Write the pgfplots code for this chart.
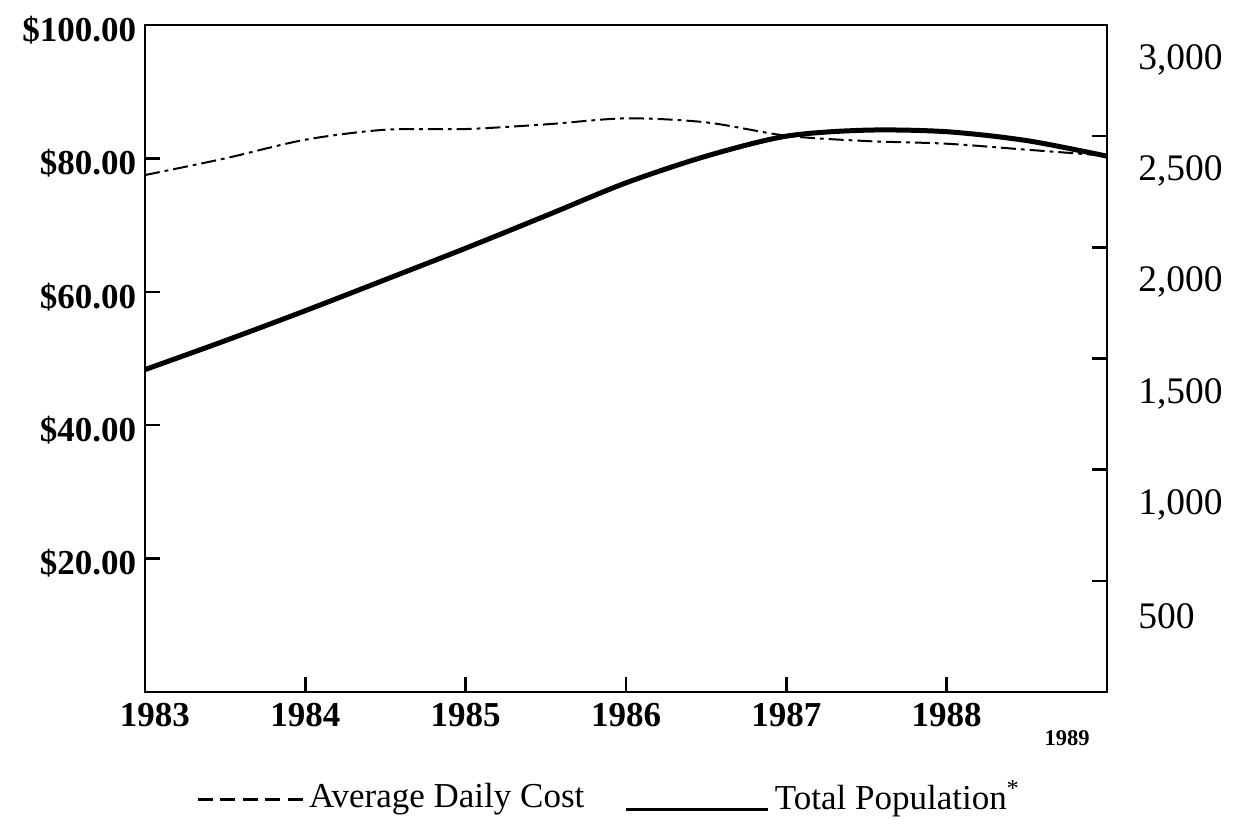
\documentclass[border=0pt]{standalone}
\usepackage{pgfplots}
\pgfplotsset{compat=1.18}
\usepackage{fontspec}
\setmainfont{Liberation Serif}
\pgfplotsset{
  dashleg/.style={legend image code/.code={\draw[black, line width=0.9pt, dash pattern=on 6pt off 3pt] (-4pt,-1pt) -- (38pt,-1pt);}},
  solidleg/.style={legend image code/.code={\draw[black, line width=1.2pt] (0pt,-5pt) -- (57pt,-5pt);}},
}
\begin{document}
\begin{tikzpicture}
\begin{axis}[
  at={(0,0)}, anchor=south west,
  scale only axis, width=384.8pt, height=266.8pt,
  xmin=1983, xmax=1989, ymin=0, ymax=100,
  axis line style={line width=1.1pt},
  tick align=inside, major tick length=6pt,
  tick style={line width=1pt, black},
  xtick={1983,1984,1985,1986,1987,1988,1989},
  xticklabels={\hspace{8pt}1983,1984,1985,1986,1987,1988,{\raisebox{-17pt}{\makebox[0pt][r]{\fontsize{9}{9}\selectfont\bfseries 1989\hspace{7pt}}}}},
  xtick pos=bottom,
  xticklabel style={font=\fontsize{14}{14}\selectfont\bfseries, yshift=-1pt},
  ytick={20,40,60,80,100},
  yticklabels={\$20.00,\$40.00,\$60.00,\$80.00,\$100.00},
  ytick pos=left,
  yticklabel style={font=\fontsize{14}{14}\selectfont\bfseries, yshift=-2pt},
  clip=false,
]
\addplot[black, line width=0.8pt, smooth, tension=0.5, dash pattern=on 6pt off 2pt on 1.5pt off 2pt] coordinates {
(1983,77.5) (1983.5,80.0) (1984,82.8) (1984.5,84.3) (1985,84.4) (1985.5,85.1) (1986,86.0) (1986.5,85.4) (1987,83.4) (1987.5,82.6) (1988,82.2) (1988.5,81.3) (1989,80.4)
};
\end{axis}
\begin{axis}[
  at={(0,0)}, anchor=south west,
  scale only axis, width=384.8pt, height=266.8pt,
  xmin=1983, xmax=1989, ymin=0, ymax=3000,
  axis x line=none, axis y line*=right,
  axis line style={line width=1.1pt, -},
  tick align=inside, major tick length=6pt,
  tick style={line width=1pt, black},
  ytick={500,1000,1500,2000,2500,3000},
  yticklabels={500,{1,000},{1,500},{2,000},{2,500},{3,000}},
  yticklabel style={font=\fontsize{15}{15}\selectfont, yshift=-14pt, xshift=9pt},
  legend columns=2,
  legend style={draw=none, fill=none, at={(0.5,0)}, anchor=center, yshift=-42pt, xshift=-6pt,
    font=\fontsize{14}{14}\selectfont, /tikz/every even column/.append style={column sep=14pt}},
  legend cell align=left,
  clip=false,
]
\addlegendimage{dashleg}
\addlegendentry{Average Daily Cost}
\addplot[black, line width=2pt, smooth, tension=0.5, solidleg] coordinates {
(1983,1450) (1983.5,1580) (1984,1715) (1984.5,1855) (1985,1996) (1985.5,2142) (1986,2290) (1986.5,2410) (1987,2500) (1987.5,2527) (1988,2520) (1988.5,2480) (1989,2410)
};
\addlegendentry{Total Population\textsuperscript{*}}
\end{axis}
\pgfresetboundingbox
\useasboundingbox (-58pt,-54.4pt) rectangle (442pt,276.8pt);
\end{tikzpicture}
\end{document}
